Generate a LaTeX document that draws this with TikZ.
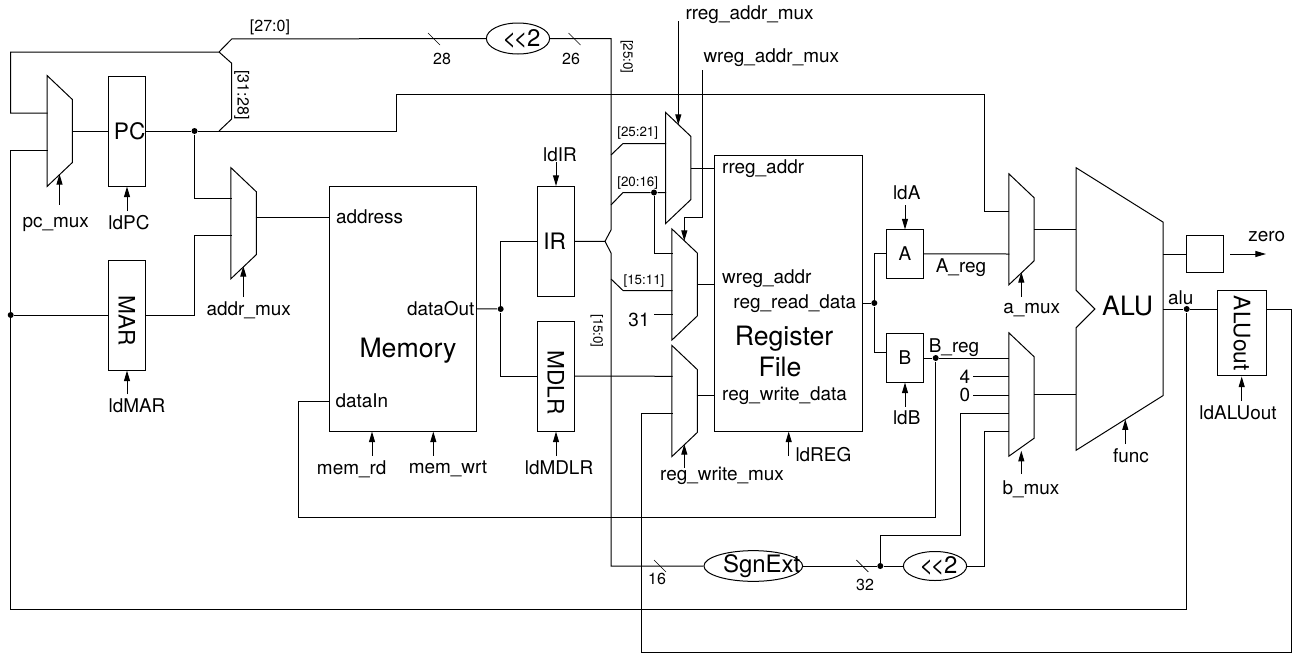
\documentclass[tikz,border=0pt]{standalone}
\usepackage{fontspec}
\setmainfont{TeX Gyre Heros}
\usetikzlibrary{arrows.meta, calc, shapes.geometric}

\begin{document}
\begin{tikzpicture}[
    % One unit is one pixel of the sheet, y runs down
    x=0.75pt,
    y=-0.75pt,
    line width=0.75pt,
    >={Stealth[length=8pt, width=4.5pt, inset=0pt]},
    regbox/.style 2 args={draw, inner sep=0pt, minimum width=#1*0.75pt, minimum height=#2*0.75pt},
    muxbox/.style={inner sep=0pt, minimum width=24.3*0.75pt, minimum height=#1*0.75pt},
    shifter/.style 2 args={draw, ellipse, inner sep=0pt, minimum width=#1*0.75pt, minimum height=#2*0.75pt},
    junction/.style={circle, fill=black, inner sep=0pt, minimum size=4.5pt},
    lbl/.style={inner sep=0pt, font=\fontsize{14.2}{16}\selectfont},
    buslbl/.style={inner sep=0pt, font=\fontsize{10}{12}\selectfont},
    widelbl/.style={inner sep=0pt, font=\fontsize{12}{14}\selectfont},
    bigfont/.style={font=\fontsize{17}{19}\selectfont},
    shiftfont/.style={font=\fontsize{18}{20}\selectfont},
    hugefont/.style={inner sep=0pt, font=\fontsize{20}{22}\selectfont}
]
    \useasboundingbox (0,0) rectangle (1295,653);

    % --- Registers and memories ---
    \node[regbox={37}{110}, bigfont] (pc) at (127,131) {\hspace{4pt}PC};
    \node[regbox={37}{110}, bigfont] (mar) at (127,315) {\rotatebox{-90}{\hspace{9pt}MAR}};
    \node[regbox={37.4}{110.2}, bigfont] (ir) at (556,241.4) {\hspace{-2pt}IR};
    \node[regbox={37.4}{110}, bigfont] (mdlr) at (556,376) {\rotatebox{-90}{\hspace{10pt}MDLR}};
    \node[regbox={147}{244.8}] (mem) at (402.8,308.8) {};
    \node[regbox={147.3}{275.6}] (reg) at (788.5,293.5) {};
    \node[regbox={37.2}{48.3}, lbl] (aff) at (905,253.9) {A};
    \node[regbox={37.2}{49}, lbl] (bff) at (905,357.8) {B};
    \node[regbox={36.6}{36.6}] (zerobox) at (1205,254) {};
    \node[regbox={49.4}{85.3}, bigfont] (aluout) at (1242,333.3) {\rotatebox{-90}{ALUout}};
    \node[inner sep=0pt, minimum width=86*0.75pt, minimum height=281.4*0.75pt] (alu) at (1119.7,309) {};

    % --- Shifters and sign extension ---
    \node[shifter={62}{31}, shiftfont] (shiftup) at (518,38.5) {\hspace{5pt}<\kern-2pt<\kern-0.5pt2};
    \node[shifter={62}{29}, shiftfont] (shiftdn) at (935,566) {\hspace{5pt}<\kern-2pt<\kern-0.5pt2};
    \node[shifter={98.7}{30.7}] (sgn) at (753.3,566) {};
    \node[shiftfont, inner sep=0pt] (sgntext) at (761.7,566) {SgnExt};

    % --- Multiplexers: name / x / y / height / bottom slant ---
    \foreach \m/\x/\y/\h/\s in {pcmux/59.7/131/110/24, addrmux/243.6/223.2/110/24,
        rregmux/678.3/168/110/24, wregmux/684.6/284.5/110/24, wrmux/684.6/401/110/24,
        amux/1021.5/229.3/110/24, bmux/1021.5/394.5/122.4/18} {
        \node[muxbox=\h] (\m) at (\x,\y) {};
        \draw (\m.north west) -- ($(\m.north east)+(0,24)$) -- ($(\m.south east)+(0,-\s)$)
            -- (\m.south west) -- cycle;
    }

    % --- ALU outline ---
    \draw (alu.north west) -- ($(alu.north east)+(0,54.4)$) -- ($(alu.south east)+(0,-54.7)$)
        -- (alu.south west) -- ($(alu.west)+(0,18.7)$) -- ($(alu.west)+(18.6,0)$)
        -- ($(alu.west)+(0,-18.7)$) -- cycle;

    % --- Junction dots ---
    \foreach \d/\x/\y in {pcdot/194.5/131, mardot/10.7/315, memdot/500.7/309, rdot/654/192.5,
        regdot/874.3/303, bdot/935.7/358, sdot/880.3/566, aludot/1186.7/309} {
        \node[junction] (\d) at (\x,\y) {};
    }

    % --- Bends and ports of the wires ---
    \foreach \c/\x/\y in {pcin1/47.5/113, pcin2/47.5/150, fbtop/10.7/52, fbbot/10.7/609,
        fork/219/52, forkup/231.7/39, forkdn/231.7/63.3, forkin/231.7/119, forkpc/219/131,
        busbend/396.7/131, bustop/984.7/94.7, ain1/1009.3/211, ain2/1009.3/254,
        addrin1/231.5/198.7, addrin2/231.5/235.3, addrout/255.7/217.3, marbend/194.5/315,
        irfork/605/241.3, irup/611/230, irdn/611/253,
        brone/611/155, bronea/623/143.5, rin1/666/143.5,
        brtwo/611/205, brtwoa/623/192.5, rin2/666/192.5,
        brthree/611/279, brthreea/623/290.5, win2/672.5/290.5,
        win1/672.5/253.5, win3/672.5/314.7, thirtytail/654/314.7,
        wrin1/672.5/376.3, wrin2/672.5/413.3, wrout/696.7/395, wbendone/702.7/217,
        fbcorner/641.7/652.3, fbright/1291/309, bin/886.3/352,
        bin1/1009.3/358, bin2/1009.3/376.7, bin3/1009.3/395, bin4/1009.3/413.3, bin5/1009.3/431.7,
        bend4/960/535.7, bend5/984.7/566, datain/329.3/401, datacorner/298.5/517.3} {
        \coordinate (\c) at (\x,\y);
    }

    % --- Wires ---
    \draw (pcin1) -| (fbtop) -- (fork) -- (forkup) -- (shiftup.west);
    \draw (fork) -- (forkdn) -- (forkin) -- (forkpc);
    \draw (pcin2) -| (fbbot) -| (aludot);
    \draw (pcmux.east) -- (pc.west);
    \draw (pc.east) -- (pcdot) -- (busbend) |- (bustop) |- (ain1);
    \draw (pcdot) |- (addrin1);
    \draw (addrin2) -| (marbend) -- (mar.east);
    \draw (mardot) -- (mar.west);
    \draw (addrout) -- (addrout -| mem.west);
    \draw (mem.east) -- (memdot);
    \draw (memdot) |- (ir.west);
    \draw (memdot) |- (mdlr.west);
    \draw (ir.east) -- (irfork) -- (irup) |- (shiftup.east);
    \draw (irfork) -- (irdn) |- (sgn.west);
    \draw (brone) -- (bronea) -- (rin1);
    \draw (brtwo) -- (brtwoa) -- (rdot) -- (rin2);
    \draw (rdot) |- (win1);
    \draw (brthree) -- (brthreea) -- (win2);
    \draw (thirtytail) -- (win3);
    \draw (mdlr.east) -- (wrin1);
    \draw (wrin2) -| (fbcorner) -| (fbright) -- (aluout.east |- fbright);
    \draw (rregmux.east) -- (rregmux.east -| reg.west);
    \draw (wregmux.east) -- (wregmux.east -| reg.west);
    \draw (wrout) -- (wrout -| reg.west);
    \draw (regdot -| reg.east) -- (regdot);
    \draw (regdot) |- (aff.west);
    \draw (regdot) |- (bin);
    \draw (aff.east) -- (ain2);
    \draw (bff.east |- bdot) -- (bdot) -- (bin1);
    \draw (bdot) |- (datacorner) |- (datain);
    \draw (amux.east) -- (amux.east -| alu.west);
    \draw (bmux.east) -- (bmux.east -| alu.west);
    \draw (zerobox.west -| alu.east) -- (zerobox.west);
    \draw (alu.east) -- (aludot) -- (aludot -| aluout.west);
    \draw (sgn.east) -- (sdot) -- (shiftdn.west);
    \draw (bin5) -| (bend5) -- (shiftdn.east);
    \draw (sdot) |- (bend4) |- (bin4);

    % --- Width ticks on the buses ---
    \foreach \t/\x/\y in {tickA/434/39, tickB/574.5/39, tickC/660/566, tickD/862.3/566} {
        \coordinate (\t) at (\x,\y);
        \draw[line width=0.5pt] ($(\t)+(-6,-6)$) -- ($(\t)+(6,6)$);
    }

    % --- Control inputs: name / x / tail y / head y ---
    \foreach \s/\x/\ya/\yb in {pcsel/59.5/204.7/174, ldpc/127/211/186.5, addrsel/243.3/297/266,
        ldmar/127/394.3/370.5, memrd/372/455.7/431.5, memwrt/433.3/455.7/431.5, ldir/556/162/186,
        ldmdlr/556/456/431.5, wrsel/684.3/468/444, ldreg/788.7/456/431.5, rsel/678.3/21/125,
        lda/905/205/229.5, ldb/905/406.7/382.5, asel/1021.3/296.7/272, bsel/1021.3/474/450.7,
        func/1125.3/444/419.3, ldalu/1241.7/400.7/376.5} {
        \coordinate (\s tail) at (\x,\ya);
        \coordinate (\s head) at (\x,\yb);
        \draw[->] (\s tail) -- (\s head);
    }
    \coordinate (wseltail) at (702.7,70);
    \coordinate (wselhead) at (684.3,241);
    \draw[->] (wseltail) |- (wbendone) -| (wselhead);
    \coordinate (zerotail) at (1230,254);
    \coordinate (zerohead) at (1266,254);
    \draw[->] (zerotail) -- (zerohead);

    % --- Labels ---
    \foreach \n/\x/\y/\txt in {pcmuxl/55.7/224/pc\_mux, ldpcl/129/223/ldPC, addrmuxl/248.7/310/addr\_mux,
        ldmarl/137/406/ldMAR, memrdl/351.7/469/mem\_rd, memwrtl/448/469/mem\_wrt, ldirl/560/155/ldIR,
        ldmdlrl/559/468/ldMDLR, wrmuxl/722/476/reg\_write\_mux, ldal/906.7/192.7/ldA, ldbl/906.7/418/ldB,
        aregl/961/267.7/A\_reg, bregl/954/347.7/B\_reg, amuxl/1031.7/310/a\_mux, bmuxl/1031/489/b\_mux,
        funcl/1131/456/func, alul/1180.7/297.7/alu, zerol/1266.7/236.7/zero, ldalul/1238/412.7/ldALUout,
        fourl/965/376.7/4, zerodl/965/395/0, thirtyl/639/320/31} {
        \node[lbl] (\n) at (\x,\y) {\txt};
    }
    \foreach \n/\x/\y/\txt in {rsell/685/15/rreg\_addr\_mux, wsell/703/58/wreg\_addr\_mux,
        addressl/335.5/217/address, datainl/335/401/dataIn, rregl/721.7/169/rreg\_addr,
        wregl/721.7/279/wreg\_addr, wrdatal/721.7/396/reg\_write\_data, ldregl/795/455/ldREG} {
        \node[lbl, anchor=west] (\n) at (\x,\y) {\txt};
    }
    \node[lbl, anchor=east] (dataoutl) at (475,309) {dataOut};
    \node[lbl, anchor=east] (rddatal) at (856.7,304) {reg\_read\_data};

    % The two constants feed the B multiplexer
    \draw ([xshift=2pt]fourl.east) -- (bin2);
    \draw ([xshift=2pt]zerodl.east) -- (bin3);

    \node[hugefont] (memtitle) at (408,351) {Memory};
    \node[hugefont] (regtitle) at (784,339) {Register};
    \node[hugefont] (filetitle) at (780,367) {File};
    \node[hugefont] (alutitle) at (1127.7,306) {ALU};

    \foreach \n/\x/\y/\txt in {n28/442/59/28, n26/571/59/26, n16/657/579.3/16, n32/865/585.3/32} {
        \node[widelbl] (\n) at (\x,\y) {\txt};
    }
    \node[widelbl] (bus270) at (270,27.3) {[27:0]};
    \node[buslbl] (bus2521) at (637.7,133.3) {[25:21]};
    \node[buslbl] (bus2016) at (637.7,182.7) {[20:16]};
    \node[buslbl] (bus1511) at (644,280.7) {[15:11]};
    \node[widelbl, rotate=-90] (bus3128) at (241.7,95) {[31:28]};
    \node[buslbl, rotate=-90] (bus250) at (626.7,56.7) {[25:0]};
    \node[buslbl, rotate=-90] (bus150) at (596.7,331) {[15:0]};
\end{tikzpicture}
\end{document}
